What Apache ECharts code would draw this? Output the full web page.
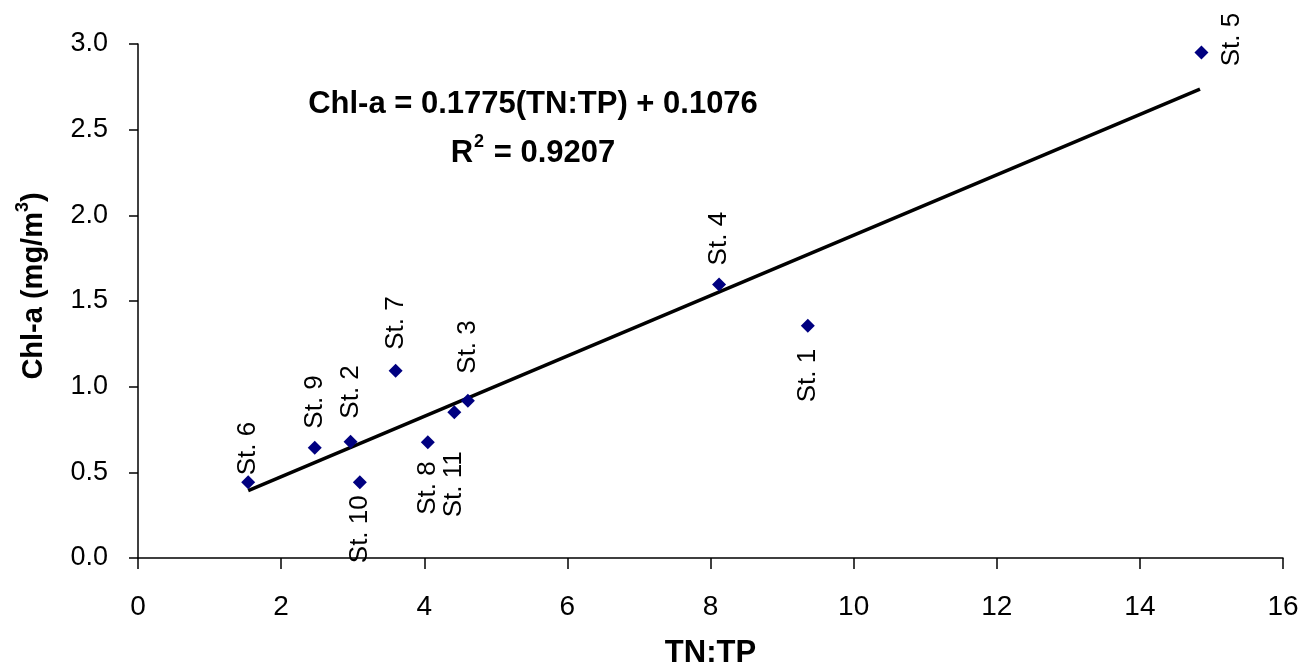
<!DOCTYPE html>
<html>
<head>
<meta charset="utf-8">
<script src="https://cdn.jsdelivr.net/npm/echarts@6/dist/echarts.min.js"></script>
<style>html,body{margin:0;padding:0;background:#fff}#c{width:1304px;height:663px}</style>
</head>
<body>
<div id="c"></div>
<script>
// Station data (TN:TP vs Chl-a)
const stations = ['St. 1','St. 2','St. 3','St. 4','St. 5','St. 6','St. 7','St. 8','St. 9','St. 10','St. 11'];
const tnTp     = [9.36, 2.97, 4.61, 8.12, 14.86, 1.54, 3.60, 4.05, 2.47, 3.10, 4.42];
const chla     = [1.355, 0.679, 0.918, 1.597, 2.95, 0.442, 1.093, 0.675, 0.644, 0.442, 0.850];
// Trend line end points
const trendX = [1.54, 14.84];
const trendY = [0.393, 2.736];
const xTicks = [0, 2, 4, 6, 8, 10, 12, 14, 16];
const yTicks = [0.0, 0.5, 1.0, 1.5, 2.0, 2.5, 3.0];

// label placement (style, not data)
const labelPlace = {
  'St. 1': ['bottom', 16], 'St. 2': ['top', 16], 'St. 3': ['top', 20], 'St. 4': ['top', 12],
  'St. 5': ['right', 10], 'St. 6': ['top', 0], 'St. 7': ['top', 14], 'St. 8': ['bottom', 12],
  'St. 9': ['top', 12], 'St. 10': ['bottom', 6], 'St. 11': ['bottom', 32]
};

const FONT = 'Liberation Sans, Arial, sans-serif';
const pts = stations.map((s, i) => {
  const [pos, gap] = labelPlace[s];
  let lab;
  if (pos === 'top') lab = {position: 'top', align: 'left', verticalAlign: 'middle', distance: gap};
  else if (pos === 'bottom') lab = {position: 'bottom', align: 'right', verticalAlign: 'middle', distance: gap};
  else lab = {position: 'right', align: 'center', verticalAlign: 'top', distance: gap, offset: [13, 0]};
  return {value: [tnTp[i], chla[i]], name: s, label: Object.assign({show: true, rotate: 90, formatter: s}, lab)};
});

const chart = echarts.init(document.getElementById('c'));
chart.setOption({
  animation: false,
  backgroundColor: '#fff',
  grid: {left: 138, right: 21, top: 44, bottom: 105, containLabel: false, outerBoundsMode: 'none'},
  xAxis: {
    type: 'value', min: xTicks[0], max: xTicks[xTicks.length - 1], interval: 2,
    name: 'TN:TP', nameLocation: 'middle', nameGap: 80,
    nameTextStyle: {fontFamily: FONT, fontWeight: 'bold', fontSize: 31, color: '#000'},
    axisLine: {lineStyle: {color: '#000', width: 1.5}},
    axisTick: {show: true, length: 11, lineStyle: {color: '#000', width: 1.5}},
    axisLabel: {fontFamily: FONT, fontSize: 28, color: '#000', margin: 35},
    splitLine: {show: false}
  },
  yAxis: {
    type: 'value', min: yTicks[0], max: yTicks[yTicks.length - 1], interval: 0.5,
    name: '{a|Chl-a (mg/m}{s|3}{a|)}', nameLocation: 'middle', nameGap: 90,
    nameTextStyle: {
      padding: [0, 0, 0, 30],
      rich: {
        a: {fontFamily: FONT, fontWeight: 'bold', fontSize: 29, lineHeight: 34, color: '#000', verticalAlign: 'bottom'},
        s: {fontFamily: FONT, fontWeight: 'bold', fontSize: 18, lineHeight: 18, color: '#000', verticalAlign: 'top', padding: [0, 0, 21, 0]}
      }
    },
    axisLine: {show: true, lineStyle: {color: '#000', width: 1.5}},
    axisTick: {show: true, length: 9, lineStyle: {color: '#000', width: 1.5}},
    axisLabel: {fontFamily: FONT, fontSize: 27, color: '#000', margin: 30, formatter: v => v.toFixed(1)},
    splitLine: {show: false}
  },
  series: [
    {
      type: 'line', data: trendX.map((x, i) => [x, trendY[i]]),
      symbol: 'none', lineStyle: {color: '#000', width: 3.5}, z: 1, silent: true
    },
    {
      type: 'scatter', data: pts, symbol: 'diamond', symbolSize: 14,
      itemStyle: {color: '#000080', opacity: 1}, z: 3,
      label: {fontFamily: FONT, fontSize: 26, color: '#000'}
    }
  ],
  graphic: [
    {type: 'text', x: 533, y: 89, style: {text: 'Chl-a = 0.1775(TN:TP) + 0.1076', font: 'bold 31px ' + FONT, fill: '#000', align: 'center'}},
    {type: 'text', x: 533, y: 133, style: {text: '{a|R}{s|2}{a| = 0.9207}', fill: '#000', align: 'center',
      rich: {
        a: {font: 'bold 31px ' + FONT, fill: '#000', lineHeight: 36, verticalAlign: 'bottom'},
        s: {font: 'bold 18px ' + FONT, fill: '#000', lineHeight: 18, verticalAlign: 'top', padding: [0, 1, 29, 1]}
      }}}
  ]
});
</script>
</body>
</html>
